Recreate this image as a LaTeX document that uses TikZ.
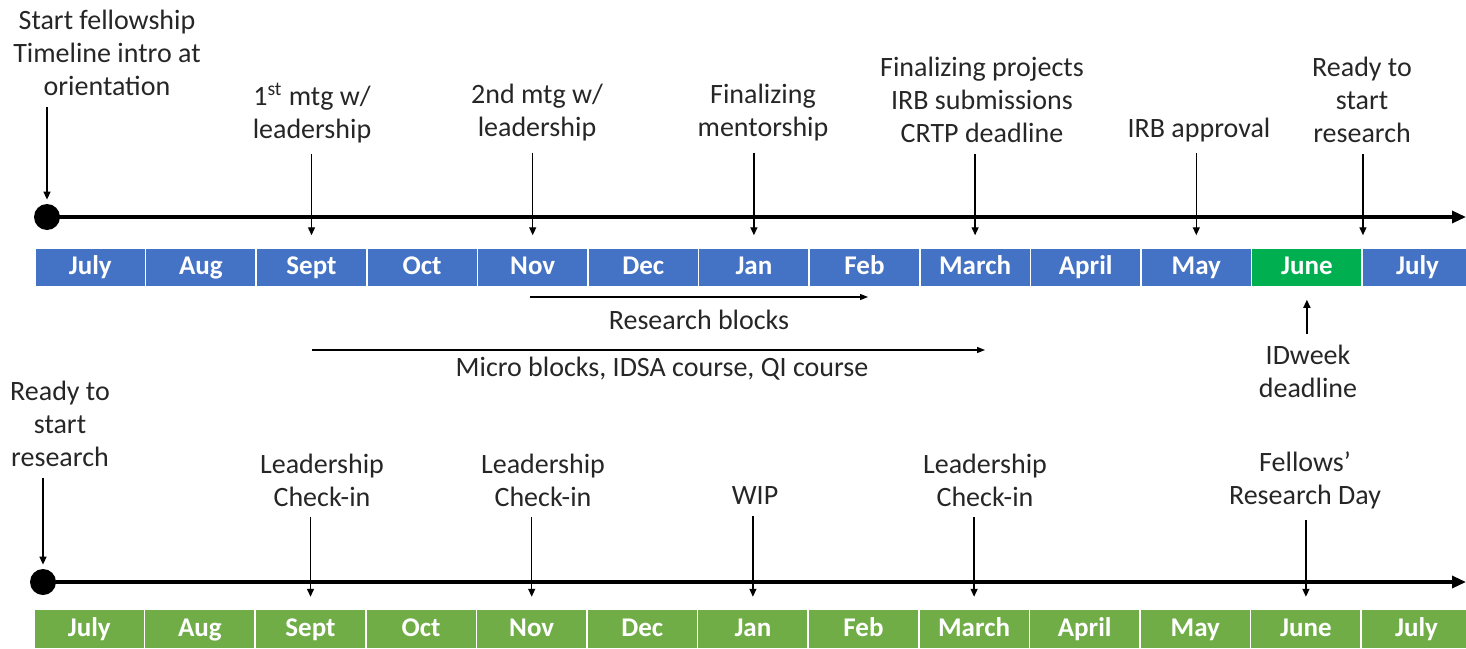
\documentclass[tikz,border=0pt]{standalone}
\usepackage{fontspec}
\setmainfont{Carlito}
\usetikzlibrary{arrows.meta}
\def\cellw{110.6}
\def\topx{35}
\def\botx{34}
\def\topy{267.5}
\def\boty{629}
\definecolor{topblue}{HTML}{4472C4}
\definecolor{junegreen}{HTML}{00B050}
\definecolor{botgreen}{HTML}{70AD47}

\begin{document}
\begin{tikzpicture}[
	x=0.5pt,y=-0.5pt,
	every node/.style={font=\fontsize{14}{16.5}\selectfont,text=black!85,align=center},
	cell/.style={rectangle,draw=white,line width=0.75pt,minimum width=55.3pt,minimum height=19.5pt,inner sep=0pt,text height=9.5pt,text depth=2.5pt,text=white,font=\fontsize{13.5}{16}\selectfont\bfseries},
	dot/.style={circle,fill=black,minimum size=13pt,inner sep=0pt},
	timeline/.style={line width=1.6pt,-{Triangle[length=7pt,width=6pt]}},
	pointer/.style={line width=0.7pt,-{Triangle[length=4pt,width=3.5pt]},shorten <=2pt},
	span/.style={line width=0.6pt,-{Triangle[length=4pt,width=3pt]}}
	]
	\path[use as bounding box] (0,0) rectangle (1466,648);
	\clip (0,0) rectangle (1466,648);
	
	\foreach \m/\c [count=\i] in {July/topblue,Aug/topblue,Sept/topblue,Oct/topblue,Nov/topblue,Dec/topblue,Jan/topblue,Feb/topblue,March/topblue,April/topblue,May/topblue,June/junegreen,July/topblue}
		\node[cell,fill=\c] (t\i) at ({\topx+(\i-0.5)*\cellw},\topy) {\m};
	\foreach \m [count=\i] in {July,Aug,Sept,Oct,Nov,Dec,Jan,Feb,March,April,May,June,July}
		\node[cell,fill=botgreen] (b\i) at ({\botx+(\i-0.5)*\cellw},\boty) {\m};
	
	\node[dot] (tdot) at (47,217) {};
	\node[dot] (bdot) at (43,582) {};
	\coordinate (tend) at (1466,217);
	\coordinate (bend) at (1466,582);
	\draw[timeline] (tdot.center) -- (tend);
	\draw[timeline] (bdot.center) -- (bend);
	
	\node (start) at (107,53) {Start fellowship\\Timeline intro at\\orientation};
	\node (mtg1) at (312,113) {1\textsuperscript{st} mtg w/\\leadership};
	\node (mtg2) at (537,113) {2nd mtg w/\\leadership};
	\node (mentor) at (763,113) {Finalizing\\mentorship};
	\node (proj) at (982,100) {Finalizing projects\\IRB submissions\\CRTP deadline};
	\node (irb) at (1199,130) {IRB approval};
	\node (ready) at (1362,100) {Ready to\\start\\research};
	\node (idweek) at (1308,371) {IDweek\\deadline};
	
	\draw[pointer,shorten >=2pt] (start.south -| tdot) -- (tdot.north);
	\draw[pointer,shorten >=6pt] (mtg1.south -| t3) -- (t3.north);
	\draw[pointer,shorten >=6pt] (mtg2.south -| t5) -- (t5.north);
	\draw[pointer,shorten >=6pt] (mentor.south -| t7) -- (t7.north);
	\draw[pointer,shorten >=6pt] (proj.south -| t9) -- (t9.north);
	\draw[pointer,shorten >=6pt] (irb.south -| t11) -- (t11.north);
	\draw[pointer,shorten >=6pt] (ready.south -| t12.north east) -- (t12.north east);
	\draw[pointer,shorten >=6pt] (idweek.north -| t12) -- (t12.south);
	
	\coordinate (rb1) at (530,297);
	\coordinate (rb2) at (868,297);
	\draw[span] (rb1) -- node[below=3pt] (rblabel) {Research blocks} (rb2);
	\coordinate (mb1) at (312,350);
	\coordinate (mb2) at (985,350);
	\draw[span] (mb1) -- node[below,pos=0.52] (mblabel) {Micro blocks, IDSA course, QI course} (mb2);
	
	\node (bready) at (60,424) {Ready to\\start\\research};
	\node (check1) at (322,480) {Leadership\\Check-in};
	\node (check2) at (543,480) {Leadership\\Check-in};
	\node (wip) at (755,496) {WIP};
	\node (check3) at (985,480) {Leadership\\Check-in};
	\node (rday) at (1305,480) {Fellows’\\Research Day};
	
	\draw[pointer,shorten >=2pt] (bready.south -| bdot) -- (bdot.north);
	\draw[pointer,shorten >=6pt] (check1.south -| b3) -- (b3.north);
	\draw[pointer,shorten >=6pt] (check2.south -| b5) -- (b5.north);
	\draw[pointer,shorten >=6pt] (wip.south -| b7) -- (b7.north);
	\draw[pointer,shorten >=6pt] (check3.south -| b9) -- (b9.north);
	\draw[pointer,shorten >=6pt] (rday.south -| b12) -- (b12.north);
\end{tikzpicture}
\end{document}
